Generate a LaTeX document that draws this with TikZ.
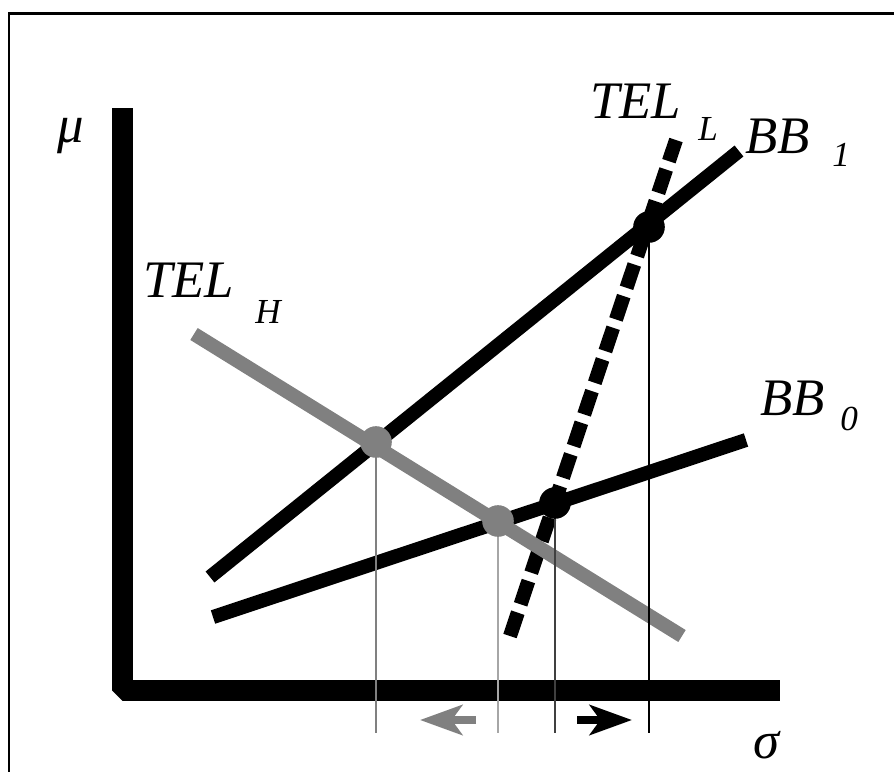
\documentclass[tikz,border=0pt]{standalone}
\usepackage{fontspec}
\setmainfont{Liberation Serif}
\usetikzlibrary{arrows.meta}

\begin{document}
\begin{tikzpicture}[x=0.02cm, y=-0.02cm,
    lbl/.style={inner sep=0, anchor=base west, font=\itshape\fontsize{30}{36}\selectfont},
    sublbl/.style={inner sep=0, anchor=base west, font=\itshape\fontsize{20}{24}\selectfont},
    budget/.style={line width=8pt},
    dot/.style={circle, inner sep=0, minimum size=18pt},
    drop/.style={line width=0.6pt},
    shiftarrow/.style={line width=4.5pt, -{Stealth[length=24pt, width=17pt, inset=6pt]}}]
    \useasboundingbox (0,0) rectangle (894,772);

    % Frame
    \draw[line width=1.7pt] (9,772) -- (9,13.5) -- (894,13.5);

    % Axes
    \coordinate (ytop) at (122.5,108);
    \coordinate (origin) at (122.5,690.5);
    \coordinate (xend) at (780,690.5);
    \draw[line width=12pt, line join=bevel] (ytop) -- (origin) -- (xend);

    % Lines
    \coordinate (bbzA) at (213,617);
    \coordinate (bbzB) at (746,440);
    \coordinate (bboA) at (210,577);
    \coordinate (bboB) at (739,151);
    \coordinate (telLA) at (510,636);
    \coordinate (telLB) at (676,140);
    \coordinate (telHA) at (194,334);
    \coordinate (telHB) at (682,636);
    \draw[budget] (bbzA) -- (bbzB);
    \draw[budget] (bboA) -- (bboB);
    \draw[budget, dash pattern=on 14pt off 5pt] (telLA) -- (telLB);
    \draw[budget, black!50] (telHA) -- (telHB);

    % Crossing points
    \coordinate (pHo) at (376,442);
    \coordinate (pHz) at (498,521);
    \coordinate (pLz) at (555,503);
    \coordinate (pLo) at (649,227);
    \coordinate (foot) at (0,733);

    % Drop lines
    \draw[drop, black!50] (pHo) -- (pHo |- foot);
    \draw[drop, black!35] (pHz) -- (pHz |- foot);
    \draw[drop, black!75] (pLz) -- (pLz |- foot);
    \draw[drop, black] (pLo) -- (pLo |- foot);

    % Dots
    \node[dot, fill=black!50] (dHo) at (pHo) {};
    \node[dot, fill=black!50] (dHz) at (pHz) {};
    \node[dot, fill=black] (dLz) at (pLz) {};
    \node[dot, fill=black] (dLo) at (pLo) {};

    % Shifts
    \coordinate (grayS) at (476,720);
    \coordinate (grayE) at (420,720);
    \coordinate (blackS) at (577,720);
    \coordinate (blackE) at (632,720);
    \draw[shiftarrow, black!50] (grayS) -- (grayE);
    \draw[shiftarrow] (blackS) -- (blackE);

    % Labels
    \node[lbl] (mu) at (57,142) {μ};
    \node[lbl] (sigma) at (753,758) {σ};
    \node[lbl] (telL) at (590,118) {TEL};
    \node[sublbl] (telLsub) at (698,140) {L};
    \node[lbl] (bbo) at (745,153) {BB};
    \node[sublbl] (bbosub) at (832,166) {1};
    \node[lbl] (telH) at (143,297) {TEL};
    \node[sublbl] (telHsub) at (255,323) {H};
    \node[lbl] (bbz) at (760,415) {BB};
    \node[sublbl] (bbzsub) at (840,430) {0};
\end{tikzpicture}
\end{document}
